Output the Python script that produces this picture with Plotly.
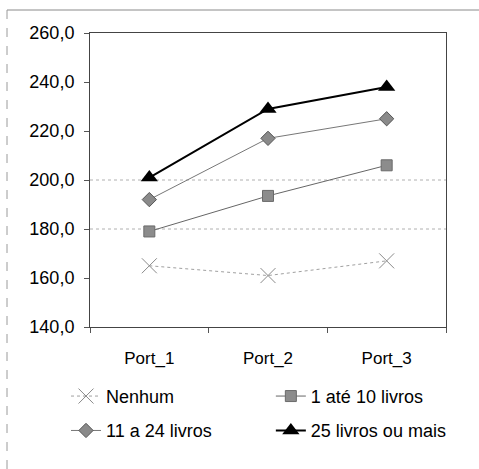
import plotly.graph_objects as go

categories = ["Port_1", "Port_2", "Port_3"]
nenhum = [165.0, 161.0, 167.0]
ate_10 = [179.0, 193.5, 206.0]
de_11_a_24 = [192.0, 217.0, 225.0]
mais_25 = [201.0, 229.0, 238.0]
y_ticks = [140, 160, 180, 200, 220, 240, 260]
grid_levels = [180, 200]

FONT = "Liberation Sans, Arial, sans-serif"

fig = go.Figure()

fig.add_trace(go.Scatter(
    x=categories, y=nenhum, name="Nenhum", mode="lines+markers",
    legend="legend", legendgroup="a",
    line=dict(color="#a0a0a0", width=1, dash="dot"),
    marker=dict(symbol="x-thin-open", size=15, color="#8a8a8a",
                line=dict(color="#8a8a8a", width=1)),
))
fig.add_trace(go.Scatter(
    x=categories, y=ate_10, name="1 até 10 livros", mode="lines+markers",
    legend="legend2", legendgroup="b",
    line=dict(color="#666666", width=1),
    marker=dict(symbol="square", size=11, color="#8c8c8c",
                line=dict(color="#6a6a6a", width=1)),
))
fig.add_trace(go.Scatter(
    x=categories, y=de_11_a_24, name="11 a 24 livros", mode="lines+markers",
    legend="legend", legendgroup="c",
    line=dict(color="#777777", width=1),
    marker=dict(symbol="diamond", size=11, color="#8a8a8a",
                line=dict(color="#555555", width=1)),
))
fig.add_trace(go.Scatter(
    x=categories, y=mais_25, name="25 livros ou mais", mode="lines+markers",
    legend="legend2", legendgroup="d",
    line=dict(color="#000000", width=2),
    marker=dict(symbol="triangle-up", size=15, color="#000000"),
))

# faint dotted grid lines
for g in grid_levels:
    fig.add_shape(type="line", xref="paper", yref="y", x0=0, x1=1, y0=g, y1=g,
                  line=dict(color="#b0b0b0", width=1, dash="dot"), layer="below")

# outer chart frame: top and left edges
frame_left = (7 - 90) / 356
frame_top = (327 - 10) / 294
fig.add_shape(type="line", xref="paper", yref="paper",
              x0=frame_left, x1=1.2, y0=frame_top, y1=frame_top,
              line=dict(color="#8a8a8a", width=1))
fig.add_shape(type="line", xref="paper", yref="paper",
              x0=frame_left, x1=frame_left, y0=frame_top, y1=-1.0,
              line=dict(color="#9a9a9a", width=1, dash="dash"))

legend_style = dict(
    orientation="v", yanchor="top", xanchor="left",
    font=dict(family=FONT, size=18, color="#000000"),
    traceorder="grouped", tracegroupgap=8,
    bgcolor="rgba(0,0,0,0)",
)

fig.update_layout(
    width=479, height=469,
    margin=dict(l=90, r=33, t=33, b=142, autoexpand=False),
    paper_bgcolor="white", plot_bgcolor="white",
    separators=",.",
    font=dict(family=FONT, size=18, color="#000000"),
    showlegend=True,
    legend=dict(x=-0.0674, y=-0.173, **legend_style),
    legend2=dict(x=0.508, y=-0.173, **legend_style),
)

fig.update_xaxes(
    type="category", range=[-0.5, 2.5], tickson="boundaries",
    ticks="outside", ticklen=5, tickcolor="#555555", ticklabelstandoff=16,
    showgrid=False, showline=True, linecolor="#444444",
    linewidth=1, mirror=True, tickfont=dict(family=FONT, size=17),
)
fig.update_yaxes(
    range=[140, 260], tickvals=y_ticks, tickformat=".1f", ticks="outside",
    ticklen=5, tickcolor="#555555", ticklabelstandoff=6, showgrid=False,
    showline=True, linecolor="#444444", linewidth=1, mirror=True,
    zeroline=False, tickfont=dict(family=FONT, size=18),
)

fig.write_html("out.html")
